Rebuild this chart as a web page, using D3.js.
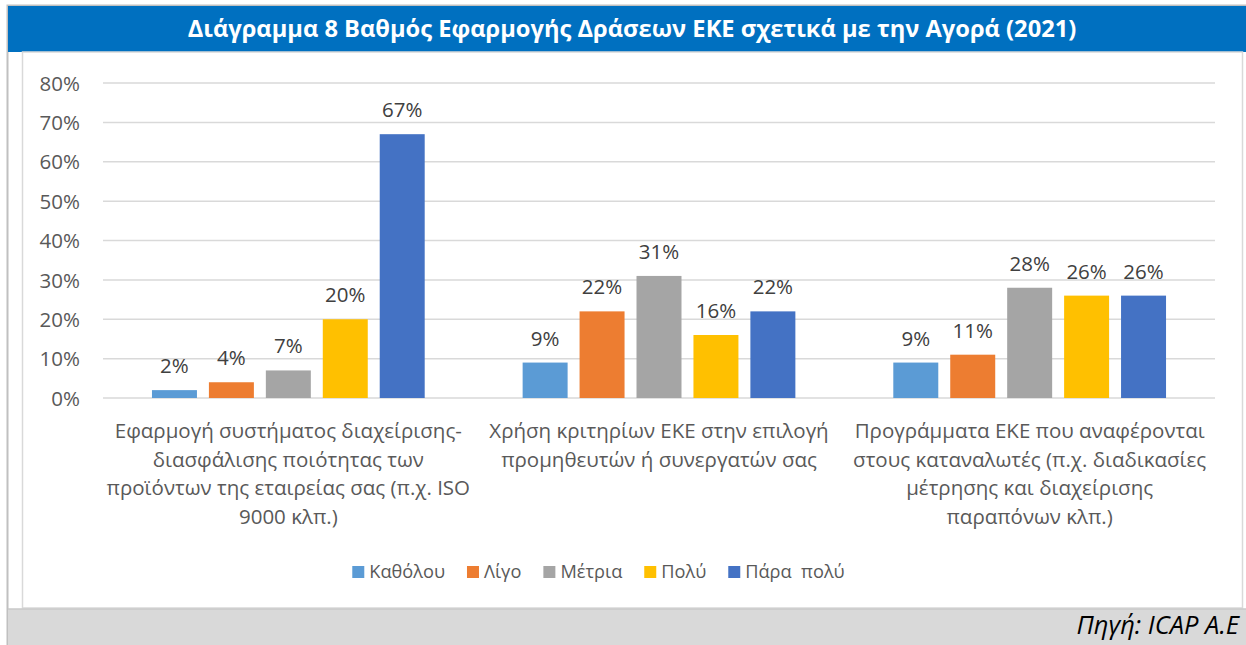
<!DOCTYPE html>
<html>
<head>
<meta charset="utf-8">
<script src="https://cdn.jsdelivr.net/npm/d3@7"></script>
<style>
  html, body { margin: 0; padding: 0; background: #ffffff; }
  svg { display: block; }
</style>
</head>
<body>
<svg id="chart" width="1246" height="645"></svg>
<script>
// ---- data ----
const title = "Διάγραμμα 8 Βαθμός Εφαρμογής Δράσεων ΕΚΕ σχετικά με την Αγορά (2021)";
const source = "Πηγή: ICAP A.E";
const categories = ["cat1", "cat2", "cat3"];
const categoryLines = [
  ["Εφαρμογή συστήματος διαχείρισης-", "διασφάλισης ποιότητας των", "προϊόντων της εταιρείας σας (π.χ. ISO", "9000 κλπ.)"],
  ["Χρήση κριτηρίων ΕΚΕ στην επιλογή", "προμηθευτών ή συνεργατών σας"],
  ["Προγράμματα ΕΚΕ που αναφέρονται", "στους καταναλωτές (π.χ. διαδικασίες", "μέτρησης και διαχείρισης", "παραπόνων κλπ.)"]
];
const seriesNames = ["Καθόλου", "Λίγο", "Μέτρια", "Πολύ", "Πάρα  πολύ"];
const seriesColors = ["#5B9BD5", "#ED7D31", "#A5A5A5", "#FFC000", "#4472C4"];
const katholou = [0.02, 0.09, 0.09];
const ligo     = [0.04, 0.22, 0.11];
const metria   = [0.07, 0.31, 0.28];
const poly     = [0.20, 0.16, 0.26];
const paraPoly = [0.67, 0.22, 0.26];
const seriesValues = [katholou, ligo, metria, poly, paraPoly];
const yTicks = [0, 0.1, 0.2, 0.3, 0.4, 0.5, 0.6, 0.7, 0.8];

// ---- layout ----
const svg = d3.select("#chart");
const W = 1246, H = 645;
const FONT = "'Open Sans', 'Noto Sans', sans-serif";

// outer frame
svg.append("rect").attr("x", 7.5).attr("y", 5.5).attr("width", W).attr("height", H)
  .attr("fill", "#ffffff").attr("stroke", "#c0c0c0").attr("stroke-width", 2);
// title bar
svg.append("rect").attr("x", 8).attr("y", 6).attr("width", W - 8).attr("height", 46).attr("fill", "#0070C0");
svg.append("text").attr("x", 632).attr("y", 37).attr("text-anchor", "middle")
  .attr("font-family", FONT).attr("font-weight", "bold").attr("font-size", 23.7)
  .attr("fill", "#ffffff").text(title);
// inner chart box
svg.append("rect").attr("x", 22.5).attr("y", 52).attr("width", 1220).attr("height", 556)
  .attr("fill", "#ffffff").attr("stroke", "#d9d9d9").attr("stroke-width", 1.5);
// footer
svg.append("rect").attr("x", 8).attr("y", 609).attr("width", W - 8).attr("height", H - 609).attr("fill", "#d9d9d9");
svg.append("line").attr("x1", 8).attr("x2", W).attr("y1", 609).attr("y2", 609).attr("stroke", "#c8c8c8").attr("stroke-width", 1.5);
svg.append("text").attr("x", 1239).attr("y", 634).attr("text-anchor", "end")
  .attr("font-family", FONT).attr("font-style", "italic").attr("font-size", 25.5)
  .attr("fill", "#000000").text(source);

// scales
const x0 = d3.scaleBand().domain(categories).range([103, 1215]).paddingInner(0).paddingOuter(0);
const x1 = d3.scaleBand().domain(seriesNames).range([0, x0.bandwidth()]).paddingInner(0.21).paddingOuter(0.86);
const y = d3.scaleLinear().domain([0, 0.8]).range([398, 83]);

// gridlines
const grid = svg.append("g");
grid.selectAll("line").data(yTicks).join("line")
  .attr("x1", 103).attr("x2", 1215)
  .attr("y1", d => y(d)).attr("y2", d => y(d))
  .attr("stroke", "#d9d9d9").attr("stroke-width", 1.5);

// y axis
const yAxis = svg.append("g").attr("transform", "translate(80,0)")
  .call(d3.axisLeft(y).tickValues(yTicks).tickFormat(d3.format(".0%")).tickSize(0).tickPadding(0));
yAxis.select(".domain").remove();
yAxis.selectAll("text").attr("font-family", FONT).attr("font-size", 20.5).attr("fill", "#595959").attr("dy", "0.35em");

// bars
const groups = svg.append("g").selectAll("g").data(categories).join("g")
  .attr("transform", d => `translate(${x0(d)},0)`);
groups.each(function(cat, ci) {
  const g = d3.select(this);
  const data = seriesNames.map((s, si) => ({ s, si, v: seriesValues[si][ci] }));
  g.selectAll("rect").data(data).join("rect")
    .attr("x", d => x1(d.s)).attr("width", x1.bandwidth())
    .attr("y", d => y(d.v)).attr("height", d => y(0) - y(d.v))
    .attr("fill", d => seriesColors[d.si]);
  g.selectAll("text.val").data(data).join("text").attr("class", "val")
    .attr("x", d => x1(d.s) + x1.bandwidth() / 2).attr("y", d => y(d.v) - 17)
    .attr("text-anchor", "middle").attr("font-family", FONT).attr("font-size", 20.5)
    .attr("fill", "#404040").text(d => d3.format(".0%")(d.v));
});

// category labels
categories.forEach((c, ci) => {
  const t = svg.append("text").attr("text-anchor", "middle")
    .attr("font-family", FONT).attr("font-size", 20.5).attr("fill", "#595959");
  categoryLines[ci].forEach((line, li) => {
    t.append("tspan").attr("x", x0(c) + x0.bandwidth() / 2).attr("y", 438 + li * 28.7).text(line);
  });
});

// legend
const legend = svg.append("g");
const items = legend.selectAll("g").data(seriesNames).join("g");
items.append("rect").attr("y", 566).attr("width", 12).attr("height", 12).attr("fill", (d, i) => seriesColors[i]);
items.append("text").attr("x", 17).attr("y", 578).attr("font-family", FONT).attr("font-size", 18.2)
  .attr("fill", "#595959").attr("xml:space", "preserve").style("white-space", "pre").text(d => d);
let widths = [];
items.each(function() { widths.push(17 + d3.select(this).select("text").node().getComputedTextLength()); });
const gap = 22;
const total = d3.sum(widths) + gap * (widths.length - 1);
let cx = 598.5 - total / 2;
items.each(function(d, i) { d3.select(this).attr("transform", `translate(${cx},0)`); cx += widths[i] + gap; });
</script>
</body>
</html>
